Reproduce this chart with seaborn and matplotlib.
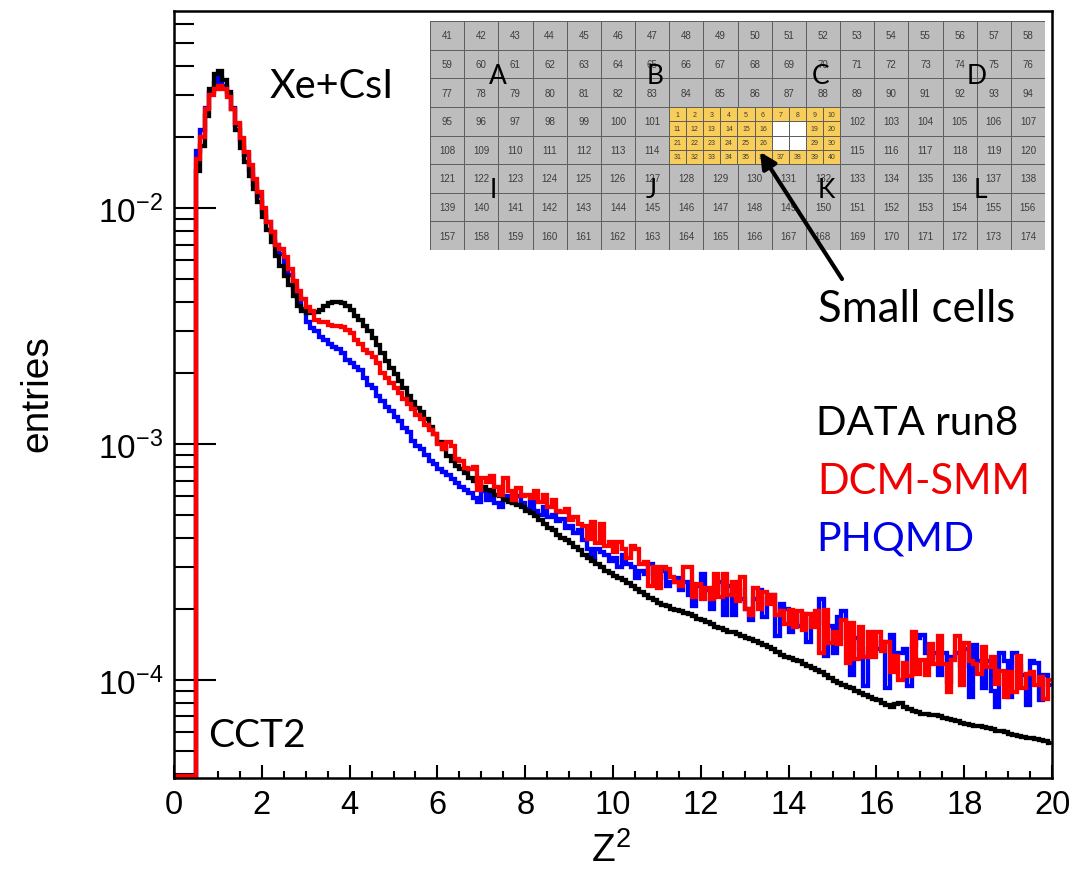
import matplotlib
matplotlib.use('Agg')
import matplotlib.pyplot as plt
from matplotlib.colors import ListedColormap
from matplotlib.ticker import LogLocator, MultipleLocator, NullFormatter
import numpy as np
import pandas as pd
import seaborn as sns

W, H = 1076, 879

# bin contents, in units of 1e-3, bins of 0.1 from 0.5 to 20
empty_bins = [0.039, 0.039, 0.039, 0.039, 0.039]

data_run8 = [
    14.3, 18.3, 24.5, 32, 37,
    38.2, 35, 31, 26.3, 21.5, 18, 15.7, 13.7, 12, 10.6,
    9.2, 8.1, 7.2, 6.25, 5.7, 5.15, 4.7, 4.25, 3.85, 3.65,
    3.6, 3.6, 3.62, 3.7, 3.85, 3.95, 3.98, 3.98, 3.97, 3.85,
    3.7, 3.5, 3.35, 3.15, 3.0, 2.8, 2.62, 2.42, 2.25, 2.1,
    1.97, 1.85, 1.72, 1.6, 1.5, 1.42, 1.36, 1.28, 1.18, 1.1,
    1.02, .95, .89, .85, .81, .78, .75, .72, .7, .68,
    .66, .64, .63, .61, .6, .58, .57, .56, .55, .54,
    .52, .51, .495, .475, .46, .44, .43, .41, .40, .39,
    .38, .365, .355, .34, .33, .32, .31, .30, .29, .285,
    .275, .27, .265, .258, .25, .242, .235, .228, .222, .218,
    .212, .208, .205, .2, .198, .195, .192, .19, .186, .182,
    .18, .176, .172, .168, .166, .163, .16, .159, .156, .153,
    .151, .149, .146, .143, .14, .138, .135, .131, .128, .125,
    .124, .122, .12, .117, .115, .112, .11, .108, .105, .102,
    .099, .097, .095, .093, .092, .09, .088, .086, .085, .083,
    .082, .08, .078, .077, .079, .08, .077, .075, .074, .073,
    .072, .0715, .071, .071, .07, .069, .068, .0675, .067, .066,
    .065, .0645, .064, .0635, .063, .0625, .062, .061, .0605, .06,
    .059, .0585, .058, .0575, .057, .0565, .056, .0555, .055, .054,
]

dcm_smm = [
    16.2, 20, 26.3, 30, 32,
    33, 32, 29.5, 26.3, 23, 19.8, 17.2, 15.2, 13.3, 11.7,
    10, 8.7, 7.9, 7, 6.7, 6.2, 5.5, 4.9, 4.45, 4.1,
    3.8, 3.65, 3.35, 3.3, 3.28, 3.2, 3.16, 3.15, 3.12, 3.05,
    2.95, 2.75, 2.65, 2.5, 2.42, 2.33, 2.2, 2.0, 1.9, 1.82,
    1.72, 1.65, 1.55, 1.47, 1.4, 1.33, 1.27, 1.2, 1.15, 1.1,
    1.0, .95, 1.02, .98, .86, .85, .79, .78, .8, .64,
    .72, .69, .73, .66, .61, .72, .63, .58, .65, .6,
    .61, .59, .63, .57, .61, .54, .58, .52, .515, .53,
    .475, .49, .46, .45, .395, .465, .38, .46, .37, .385,
    .35, .385, .36, .33, .37, .36, .31, .315, .25, .30,
    .245, .30, .295, .272, .26, .25, .30, .30, .225, .255,
    .22, .245, .22, .28, .225, .28, .228, .26, .215, .272,
    .20, .188, .245, .20, .235, .21, .228, .188, .195, .172,
    .197, .167, .195, .162, .19, .167, .195, .13, .197, .143,
    .16, .142, .18, .118, .175, .123, .167, .125, .16, .125,
    .16, .133, .145, .108, .126, .10, .118, .104, .16, .106,
    .122, .105, .142, .117, .153, .117, .089, .122, .153, .095,
    .143, .12, .117, .106, .138, .113, .125, .096, .109, .085,
    .108, .089, .126, .092, .106, .108, .095, .103, .083, .10,
]

phqmd = [
    17.5, 21.5, 26.5, 31, 34,
    35.5, 33, 30.5, 26.5, 22.5, 19.5, 16.7, 14.5, 12.7, 11.2,
    9.7, 8.7, 7.9, 7, 6.4, 5.8, 5.2, 4.6, 4.15, 3.75,
    3.3, 3.1, 3.0, 2.85, 2.75, 2.65, 2.58, 2.52, 2.42, 2.28,
    2.2, 2.12, 2.06, 1.9, 1.78, 1.72, 1.6, 1.52, 1.44, 1.38,
    1.3, 1.25, 1.17, 1.12, 1.03, .98, .95, .9, .85, .82,
    .78, .76, .74, .71, .68, .66, .64, .62, .59, .57,
    .63, .58, .61, .56, .54, .6, .59, .56, .6, .56,
    .53, .58, .52, .5, .54, .49, .5, .47, .48, .44,
    .45, .42, .43, .39, .36, .33, .36, .35, .34, .32,
    .33, .30, .34, .31, .30, .27, .29, .28, .31, .27,
    .27, .29, .25, .26, .27, .24, .26, .23, .205, .25,
    .28, .24, .2, .24, .26, .188, .25, .188, .24, .22,
    .2, .18, .22, .24, .185, .22, .23, .153, .21, .2,
    .16, .185, .17, .19, .145, .18, .175, .22, .126, .17,
    .13, .185, .195, .15, .105, .15, .135, .094, .13, .15,
    .135, .145, .092, .155, .13, .13, .135, .094, .14, .15,
    .155, .13, .125, .13, .105, .13, .098, .125, .13, .115,
    .135, .085, .14, .12, .092, .12, .09, .077, .13, .12,
    .085, .13, .115, .105, .078, .12, .118, .082, .105, .095,
]

sample_names = ['PHQMD', 'DATA run8', 'DCM-SMM']
sample_colors = ['#0000ff', '#000000', '#ff0000']
x_ticks = [0, 2, 4, 6, 8, 10, 12, 14, 16, 18, 20]

# detector cell numbers of the inset
big_cells = [
    list(range(41, 59)),
    list(range(59, 77)),
    list(range(77, 95)),
    list(range(95, 102)) + [0] * 5 + list(range(102, 108)),
    list(range(108, 115)) + [0] * 5 + list(range(115, 121)),
    list(range(121, 139)),
    list(range(139, 157)),
    list(range(157, 175)),
]
small_cells = [
    list(range(1, 11)),
    list(range(11, 17)) + [0, 0, 19, 20],
    list(range(21, 27)) + [0, 0, 29, 30],
    list(range(31, 41)),
]
zone_letters = ['A', 'B', 'C', 'D', 'I', 'J', 'K', 'L']
zone_x = [498, 655, 821, 977, 493, 651, 826, 980]
zone_y = [76, 76, 76, 76, 190, 190, 190, 190]


def pixel_axes(fig, left, top, right, bottom):
    return fig.add_axes([left / W, 1 - bottom / H, (right - left) / W, (bottom - top) / H])


def cell_heatmap(ax, cells, face_cmap, size):
    cells = np.array(cells)
    labels = np.where(cells > 0, cells.astype(str), '')
    sns.heatmap(cells > 0, ax=ax, cmap=face_cmap, vmin=0, vmax=1, cbar=False,
                annot=labels, fmt='', annot_kws={'size': size, 'color': '#3d3d3d'},
                linewidths=0.7, linecolor='#5f5f5f', xticklabels=False, yticklabels=False)


sns.set_theme(style='ticks')
plt.rcParams['font.family'] = ['Liberation Sans', 'DejaVu Sans']
plt.rcParams['mathtext.default'] = 'regular'

centers = np.arange(200) / 10 + 0.05
frames = []
for name, values in zip(['DATA run8', 'DCM-SMM', 'PHQMD'], [data_run8, dcm_smm, phqmd]):
    frames.append(pd.DataFrame({'z2': centers,
                                'entries': np.array(empty_bins + values) * 1e-3,
                                'sample': name}))
df = pd.concat(frames)

fig = plt.figure(figsize=(W / 100, H / 100), dpi=100)
ax = pixel_axes(fig, 174, 12, 1052, 779)

sns.lineplot(data=df, x='z2', y='entries', hue='sample', hue_order=sample_names,
             palette=sample_colors, estimator=None, sort=False, drawstyle='steps-mid',
             linewidth=3.1, solid_joinstyle='miter', legend=False, ax=ax)

ax.set_yscale('log')
ax.set_xlim(0, 20)
ax.set_ylim(3.84e-5, 0.0684)
ax.set_xticks(x_ticks)
ax.xaxis.set_minor_locator(MultipleLocator(0.5))
ax.yaxis.set_major_locator(LogLocator(base=10, numticks=10))
ax.yaxis.set_minor_locator(LogLocator(base=10, subs=np.arange(2, 10) * 0.1, numticks=12))
ax.yaxis.set_minor_formatter(NullFormatter())
ax.tick_params(axis='x', which='major', direction='in', length=9.5, width=1.5, labelsize=23.5, pad=8,
               color='black', labelcolor='black')
ax.tick_params(axis='x', which='minor', direction='in', length=5, width=1.5, color='black')
ax.tick_params(axis='y', which='major', direction='in', length=30, width=1.5, labelsize=24, pad=8,
               color='black', labelcolor='black')
ax.tick_params(axis='y', which='minor', direction='in', length=14.5, width=1.5, color='black')
ax.set_xlabel('')
ax.set_ylabel('')
for side in ax.spines.values():
    side.set_linewidth(1.8)
    side.set_color('black')

# detector map inset
inset = pixel_axes(fig, 430, 22, 1045, 251)
cell_heatmap(inset, big_cells, ListedColormap(['#bdbdbd', '#bdbdbd']), 7)
center = pixel_axes(fig, 669, 108, 840, 165)
cell_heatmap(center, small_cells, ListedColormap(['#ffffff', '#f8cd5a']), 5)

# everything drawn on top, placed in picture pixels
top = fig.add_axes([0, 0, 1, 1])
top.set_xlim(0, W)
top.set_ylim(H, 0)
top.axis('off')
top.patch.set_alpha(0)

note_font = 'Lato'
for letter, lx, ly in zip(zone_letters, zone_x, zone_y):
    top.text(lx, ly, letter, fontsize=19, family=note_font, ha='center', va='center', color='black')

top.text(332, 87, 'Xe+CsI', fontsize=28.5, family=note_font, ha='center', va='center', color='black')
top.text(257, 736, 'CCT2', fontsize=28, family=note_font, ha='center', va='center', color='black')
top.text(917, 310, 'Small cells', fontsize=31.5, family=note_font, ha='center', va='center', color='black')
top.text(917, 424, 'DATA run8', fontsize=29, family=note_font, ha='center', va='center', color='black')
top.text(924, 482, 'DCM-SMM', fontsize=30, family=note_font, ha='center', va='center', color='#f00000')
top.text(895, 539, 'PHQMD', fontsize=29.5, family=note_font, ha='center', va='center', color='#0000e6')

top.annotate('', xy=(760, 153), xytext=(842, 280),
             arrowprops=dict(arrowstyle='-|>', color='black', lw=3, mutation_scale=24, shrinkA=0, shrinkB=0))

top.text(37, 394, 'entries', fontsize=28, rotation=90, ha='center', va='center', color='black')
top.text(611, 851, 'Z$^{2}$', fontsize=28, ha='center', va='center', color='black')

fig.savefig('out.png', dpi=100)
